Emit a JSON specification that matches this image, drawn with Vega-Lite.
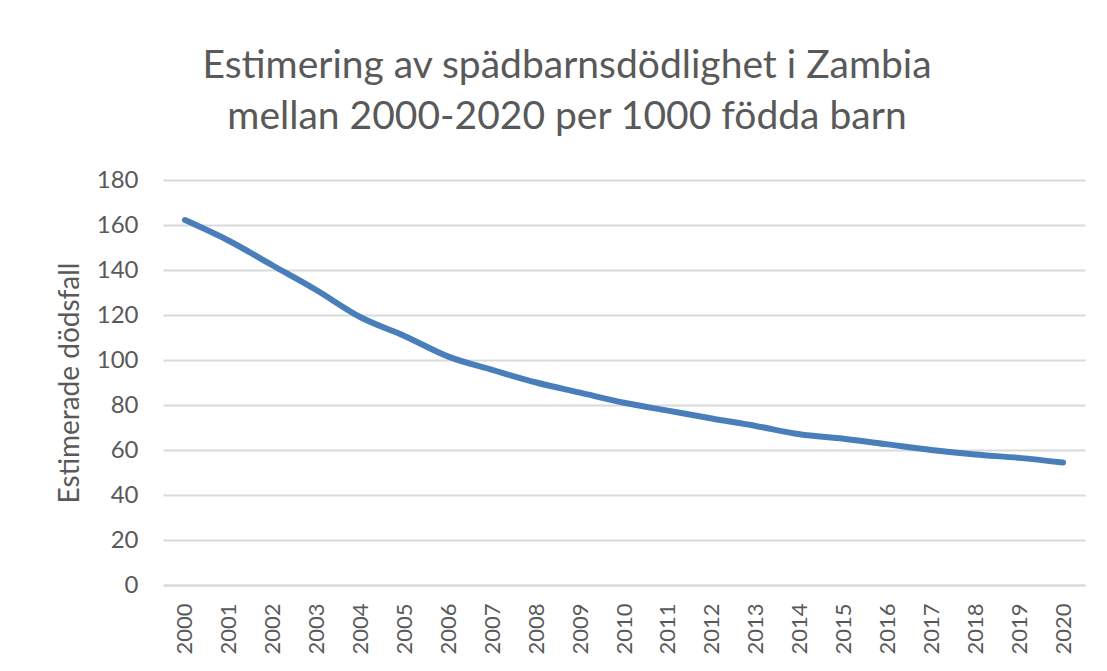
{
  "$schema": "https://vega.github.io/schema/vega-lite/v6.json",
  "autosize": {"type": "none"},
  "width": 922,
  "height": 405,
  "padding": {"left": 163, "top": 180, "right": 22, "bottom": 86},
  "background": "white",
  "config": {
    "view": {"stroke": null},
    "font": "Lato"
  },
  "title": {
    "text": ["Estimering av spädbarnsdödlighet  i Zambia", "mellan 2000-2020 per 1000 födda barn"],
    "font": "Lato",
    "fontSize": 39,
    "fontWeight": "normal",
    "color": "#595959",
    "anchor": "middle",
    "frame": "group",
    "dx": -57,
    "lineHeight": 51,
    "baseline": "alphabetic",
    "offset": 0
  },
  "data": {
    "values": [
      {"year": "2000", "value": 162.2},
      {"year": "2001", "value": 153.0},
      {"year": "2002", "value": 142.0},
      {"year": "2003", "value": 131.0},
      {"year": "2004", "value": 119.0},
      {"year": "2005", "value": 110.7},
      {"year": "2006", "value": 101.5},
      {"year": "2007", "value": 95.6},
      {"year": "2008", "value": 90.0},
      {"year": "2009", "value": 85.5},
      {"year": "2010", "value": 81.0},
      {"year": "2011", "value": 77.5},
      {"year": "2012", "value": 74.0},
      {"year": "2013", "value": 70.7},
      {"year": "2014", "value": 67.0},
      {"year": "2015", "value": 65.0},
      {"year": "2016", "value": 62.5},
      {"year": "2017", "value": 60.0},
      {"year": "2018", "value": 58.0},
      {"year": "2019", "value": 56.5},
      {"year": "2020", "value": 54.4}
    ]
  },
  "mark": {"type": "line", "color": "#4A7EBB", "strokeWidth": 6, "strokeCap": "round", "strokeJoin": "round", "interpolate": "monotone"},
  "encoding": {
    "x": {
      "field": "year",
      "type": "ordinal",
      "scale": {"type": "point", "padding": 0.5},
      "axis": {
        "title": null,
        "labelAngle": -90,
        "labelAlign": "right",
        "labelBaseline": "middle",
        "labelFont": "Lato",
        "labelFontSize": 22,
        "labelColor": "#595959",
        "labelPadding": 18,
        "ticks": false,
        "domain": true,
        "domainColor": "#d9d9d9",
        "domainWidth": 2,
        "grid": false
      }
    },
    "y": {
      "field": "value",
      "type": "quantitative",
      "scale": {"domain": [0, 180], "nice": false},
      "axis": {
        "title": "Estimerade dödsfall",
        "titleFont": "Lato",
        "titleFontSize": 28,
        "titleFontWeight": "normal",
        "titleColor": "#595959",
        "titlePadding": 12,
        "values": [0, 20, 40, 60, 80, 100, 120, 140, 160, 180],
        "labelFont": "Lato",
        "labelFontSize": 24,
        "labelColor": "#595959",
        "labelPadding": 25,
        "ticks": false,
        "domain": false,
        "grid": true,
        "gridColor": "#d9d9d9",
        "gridWidth": 2
      }
    }
  }
}
